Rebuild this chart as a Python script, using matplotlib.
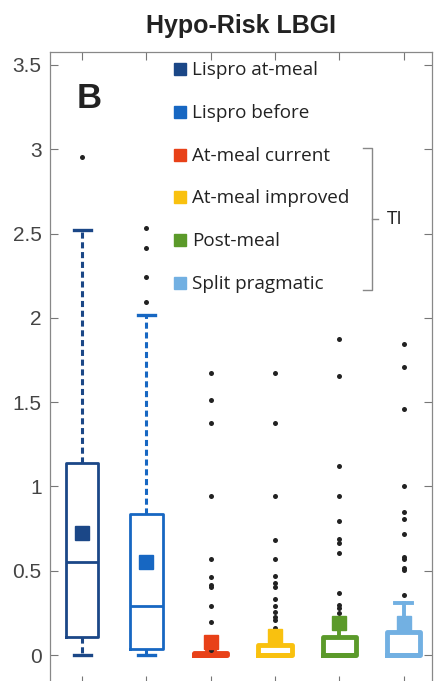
import matplotlib
matplotlib.use("Agg")
import matplotlib.pyplot as plt
from matplotlib.lines import Line2D

# ---------------- data ----------------
title = "Hypo-Risk LBGI"
panel = "B"
labels = ["Lispro at-meal", "Lispro before", "At-meal current",
          "At-meal improved", "Post-meal", "Split pragmatic"]
colors = ["#1b4787", "#1767c2", "#e84118", "#f9c10f", "#5b9a2a", "#72b0e2"]

q1 = [0.105, 0.034, 0.0, 0.0, 0.0, 0.0]
medians = [0.55, 0.293, 0.0, 0.0, 0.0, 0.0]
q3 = [1.137, 0.836, 0.012, 0.06, 0.105, 0.135]
whislo = [0.0, 0.0, 0.0, 0.0, 0.0, 0.0]
whishi = [2.52, 2.02, 0.02, 0.1, 0.17, 0.31]
means = [0.725, 0.553, 0.079, 0.115, 0.193, 0.19]
outliers = [
    [2.952],
    [2.531, 2.412, 2.240, 2.092],
    [1.675, 1.51, 1.374, 0.945, 0.569, 0.464, 0.415, 0.405, 0.29, 0.198, 0.03],
    [1.675, 1.374, 0.945, 0.682, 0.569, 0.47, 0.425, 0.405, 0.33, 0.29, 0.257,
     0.227, 0.208, 0.158],
    [1.872, 1.655, 1.123, 0.945, 0.797, 0.686, 0.662, 0.607, 0.366, 0.297,
     0.277, 0.247],
    [1.845, 1.706, 1.457, 1.002, 0.85, 0.81, 0.718, 0.583, 0.568, 0.514,
     0.504, 0.356],
]
yticks = [0, 0.5, 1, 1.5, 2, 2.5, 3, 3.5]
ytick_labels = ["0", "0.5", "1", "1.5", "2", "2.5", "3", "3.5"]
bracket_label = "TI"

# ---------------- figure ----------------
W, H = 435, 681
fig = plt.figure(figsize=(W / 100, H / 100), dpi=100)
fig.patch.set_facecolor("white")

def fx(px):
    return px / W

def fy(py):
    return 1 - py / H

ymin, ymax = -0.17, 3.577
ax_left, ax_right, ax_top = 50, 432, 52
ax_bottom = ax_top + (ymax - ymin) * 168.6
ax = fig.add_axes([fx(ax_left), fy(ax_bottom), (ax_right - ax_left) / W,
                   (ax_bottom - ax_top) / H])

positions = list(range(1, len(labels) + 1))
for i, pos in enumerate(positions):
    st = dict(med=medians[i], q1=q1[i], q3=q3[i], whislo=whislo[i],
              whishi=whishi[i], fliers=outliers[i], mean=means[i])
    big = i < 2
    lw = 2.0 if big else 3.5
    c = colors[i]
    ax.bxp([st], positions=[pos], widths=0.5 if big else 0.52,
           showmeans=True, showfliers=True,
           capwidths=0.26 if big else (0.26 if i == 5 else 0.12),
           boxprops=dict(color=c, linewidth=lw),
           medianprops=dict(color=c, linewidth=lw),
           whiskerprops=dict(color=c, linewidth=2.2 if big else 2.8,
                             linestyle=(0, (2, 1.2)) if big else "-"),
           capprops=dict(color=c, linewidth=2.4 if big else 2.8),
           meanprops=dict(marker="s", markerfacecolor=c, markeredgecolor=c,
                          markersize=9.5 if big else 10.5),
           flierprops=dict(marker="o", markerfacecolor="#222222",
                           markeredgecolor="none", markersize=3.6))

ax.set_xlim(0.5, 6.44)
ax.set_ylim(ymin, ymax)
ax.set_yticks(yticks)
ax.set_yticklabels(ytick_labels, fontsize=15, color="#444444",
                   family="Liberation Sans")
ax.set_xticks(positions)
ax.set_xticklabels([])
ax.tick_params(axis="both", direction="in", length=6, width=0.8,
               colors="#777777", top=True, right=True, pad=6)
ax.tick_params(axis="y", labelcolor="#444444")
for sp in ax.spines.values():
    sp.set_color("#888888")
    sp.set_linewidth(0.9)

# title & panel letter
fig.text(fx(241), fy(32.7), title, ha="center", va="baseline",
         fontsize=18, fontweight="bold", color="#222222",
         family="Liberation Sans")
fig.text(fx(77), fy(108), panel, ha="left", va="baseline", fontsize=25,
         fontweight="bold", color="#222222", family="Liberation Sans")

# legend
rows = [69.3, 111.7, 155, 196.7, 240, 283.3]
for lab, c, ry in zip(labels, colors, rows):
    fig.add_artist(Line2D([fx(180.5)], [fy(ry)], marker="s", markersize=8,
                          markerfacecolor=c, markeredgecolor=c,
                          transform=fig.transFigure))
    fig.text(fx(192.5), fy(ry + 1), lab, ha="left", va="center",
             fontsize=13.6, color="#222222", family="Open Sans")

# bracket
bc = "#888888"
bx, btop, bbot, bmid = 371.7, 148, 290, 219
fig.add_artist(Line2D([fx(363), fx(bx), fx(bx), fx(363)],
                      [fy(btop), fy(btop), fy(bbot), fy(bbot)],
                      color=bc, lw=1.0, transform=fig.transFigure))
fig.add_artist(Line2D([fx(bx), fx(378)], [fy(bmid), fy(bmid)], color=bc,
                      lw=1.0, transform=fig.transFigure))
fig.text(fx(387), fy(bmid), bracket_label, ha="left", va="center",
         fontsize=13.6, color="#222222", family="Open Sans")

fig.savefig("out.png", dpi=100, facecolor="white")
